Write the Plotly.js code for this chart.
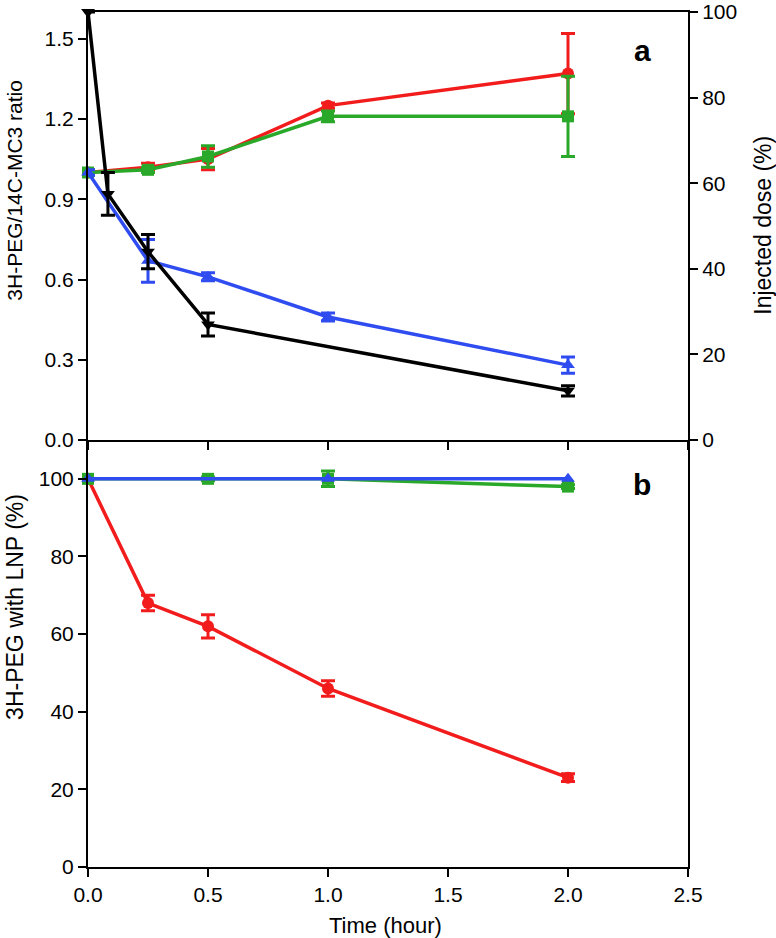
<!DOCTYPE html>
<html>
<head>
<meta charset="utf-8">
<script src="https://cdn.plot.ly/plotly-3.0.1.min.js"></script>
<style>
  html, body { margin: 0; padding: 0; background: #ffffff; }
  #chart { width: 776px; height: 938px; }
</style>
</head>
<body>
<div id="chart"></div>
<script>
const FONT_FAMILY = "Liberation Sans, Arial, Helvetica, sans-serif";
const COLORS = {
  red: "#f21c1c",
  green: "#2aa829",
  blue: "#2f4cf0",
  black: "#000000",
  axis: "#000000",
};

// panel a: 3H-PEG/14C-MC3 ratio (left axis)
const timeRatio = [0, 0.25, 0.5, 1, 2];
const redRatio = [1.0, 1.02, 1.05, 1.25, 1.37];
const redRatioErr = [0.01, 0.015, 0.04, 0.01, 0.15];
const greenRatio = [1.0, 1.01, 1.06, 1.21, 1.21];
const greenRatioErr = [0.01, 0.01, 0.04, 0.02, 0.15];
const blueRatio = [1.0, 0.67, 0.61, 0.46, 0.28];
const blueRatioErr = [0.01, 0.08, 0.015, 0.015, 0.03];

// panel a: injected dose (right axis)
const timeDose = [0, 0.083, 0.25, 0.5, 2];
const blackDose = [100, 57.5, 44, 27, 11.5];
const blackDoseErr = [0, 5, 4, 2.7, 1.2];

// panel b: 3H-PEG with LNP (%)
const timeRedLnp = [0, 0.25, 0.5, 1, 2];
const redLnp = [100, 68, 62, 46, 23];
const redLnpErr = [0, 2, 3, 2, 1];
const timeGreenLnp = [0, 0.5, 1, 2];
const greenLnp = [100, 100, 100, 98];
const greenLnpErr = [0, 0.5, 2, 0.5];
const timeBlueLnp = [0, 1, 2];
const blueLnp = [100, 100, 100];

const xTicks = [0, 0.5, 1, 1.5, 2, 2.5];
const ratioTicks = [0, 0.3, 0.6, 0.9, 1.2, 1.5];
const doseTicks = [0, 20, 40, 60, 80, 100];
const lnpTicks = [0, 20, 40, 60, 80, 100];

function series(x, y, err, color, symbol, xa, ya) {
  const trace = {
    x, y, xaxis: xa, yaxis: ya,
    type: "scatter",
    mode: "lines+markers",
    cliponaxis: false,
    line: { color, width: 3.5 },
    marker: { color, symbol, size: 12 },
    showlegend: false,
    hoverinfo: "skip",
  };
  if (err) {
    trace.error_y = { type: "data", array: err, visible: true, color, thickness: 3, width: 7 };
  }
  return trace;
}

const traces = [
  series(timeRatio, redRatio, redRatioErr, COLORS.red, "circle", "x2", "y2"),
  series(timeRatio, greenRatio, greenRatioErr, COLORS.green, "square", "x2", "y2"),
  series(timeRatio, blueRatio, blueRatioErr, COLORS.blue, "triangle-up", "x2", "y2"),
  series(timeDose, blackDose, blackDoseErr, COLORS.black, "triangle-down", "x2", "y3"),
  series(timeRedLnp, redLnp, redLnpErr, COLORS.red, "circle", "x", "y"),
  series(timeGreenLnp, greenLnp, greenLnpErr, COLORS.green, "square", "x", "y"),
  series(timeBlueLnp, blueLnp, null, COLORS.blue, "triangle-up", "x", "y"),
];

const SPLIT = 0.4994;
const tickFont = { family: FONT_FAMILY, size: 21, color: "#000" };

function axisBase() {
  return {
    showline: true,
    linecolor: COLORS.axis,
    linewidth: 2,
    ticks: "outside",
    ticklen: 8,
    tickwidth: 2,
    tickcolor: COLORS.axis,
    showgrid: false,
    zeroline: false,
    tickfont: tickFont,
    fixedrange: true,
  };
}

// axis titles placed as annotations (paper coords) so they sit where the original has them
function sideTitle(text, x, y, angle, size) {
  return {
    text, xref: "paper", yref: "paper", x, y,
    xanchor: "center", yanchor: "middle", textangle: angle,
    showarrow: false, font: { family: FONT_FAMILY, size, color: "#000" },
  };
}

const layout = {
  width: 776,
  height: 938,
  margin: { l: 88, r: 88, t: 12, b: 71 },
  paper_bgcolor: "#ffffff",
  plot_bgcolor: "#ffffff",
  font: { family: FONT_FAMILY, color: "#000" },
  showlegend: false,
  xaxis: Object.assign(axisBase(), {
    anchor: "y",
    domain: [0, 1],
    range: [0, 2.5],
    tickvals: xTicks,
    ticktext: xTicks.map((v) => v.toFixed(1)),
  }),
  xaxis2: Object.assign(axisBase(), {
    anchor: "y2",
    domain: [0, 1],
    range: [0, 2.5],
    tickvals: xTicks,
    showticklabels: false,
    mirror: true,
  }),
  yaxis: Object.assign(axisBase(), {
    anchor: "x",
    domain: [0, SPLIT],
    range: [0, 110],
    tickvals: lnpTicks,
    mirror: true,
  }),
  yaxis2: Object.assign(axisBase(), {
    anchor: "x2",
    domain: [SPLIT, 1],
    range: [0, 1.6],
    tickvals: ratioTicks,
    ticktext: ratioTicks.map((v) => v.toFixed(1)),
  }),
  yaxis3: Object.assign(axisBase(), {
    anchor: "x2",
    overlaying: "y2",
    side: "right",
    range: [0, 100],
    tickvals: doseTicks,
  }),
  annotations: [
    sideTitle("3H-PEG/14C-MC3 ratio", -0.122, 0.792, -90, 21),
    sideTitle("3H-PEG with LNP (%)", -0.122, 0.304, -90, 23),
    sideTitle("Injected dose (%)", 1.125, 0.75, -90, 23),
    sideTitle("Time (hour)", 0.495, -0.068, 0, 22),
    {
      text: "<b>a</b>", xref: "x2", yref: "y2", x: 2.31, y: 1.455,
      showarrow: false, font: { family: FONT_FAMILY, size: 30, color: "#000" },
    },
    {
      text: "<b>b</b>", xref: "x", yref: "y", x: 2.31, y: 98.5,
      showarrow: false, font: { family: FONT_FAMILY, size: 30, color: "#000" },
    },
  ],
};

Plotly.newPlot("chart", traces, layout, { displayModeBar: false, staticPlot: true });
</script>
</body>
</html>
